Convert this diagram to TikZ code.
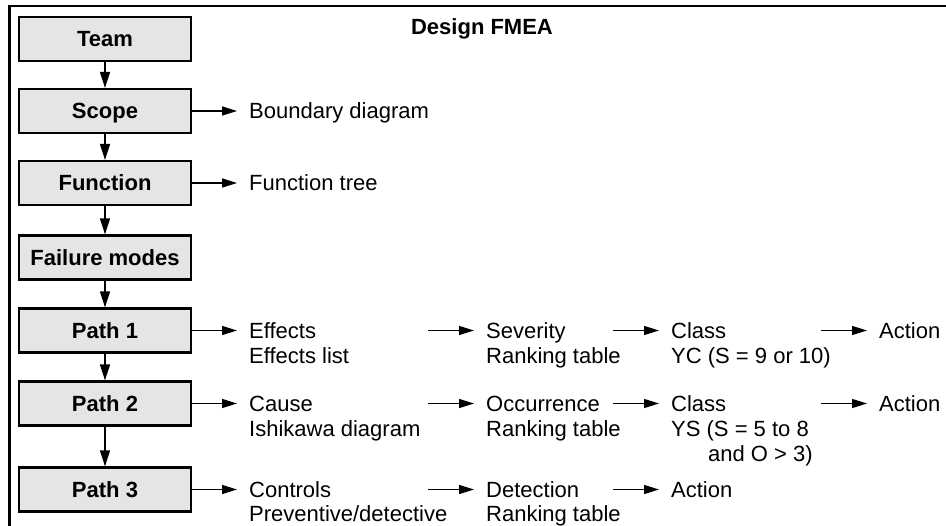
\documentclass[tikz,border=0pt]{standalone}
\usepackage{fontspec}
\setmainfont{Liberation Sans}
\usetikzlibrary{arrows.meta}
\begin{document}
\begin{tikzpicture}[x=1pt,y=-1pt,
  txt/.style={font=\fontsize{22}{26}\selectfont},
  stepbox/.style={draw=black, line width=2.2pt, fill=black!10,
    minimum width=172pt, minimum height=44pt, inner sep=0pt,
    text height=15.8pt, text depth=0pt,
    font=\fontsize{22}{26}\selectfont\bfseries},
  flow/.style={line width=1.4pt, -{Triangle[length=15pt,width=9pt]}},
  down/.style={line width=1.4pt, -{Triangle[length=16pt,width=10pt]}},
  head/.style={txt, anchor=west, inner xsep=12pt, inner ysep=0pt,
    text height=15.8pt, text depth=0pt},
  sub/.style={txt, anchor=base west, inner sep=0pt}]
\useasboundingbox (0,0) rectangle (946,526);

% frame
\draw[line width=2.4pt] (9.5,527) -- (9.5,6) -- (947,6);

% title
\node[anchor=base, font=\fontsize{22}{26}\selectfont\bfseries] (title) at (482,35) {Design FMEA};

% main chain of steps
\node[stepbox] (team)  at (105,39)    {Team};
\node[stepbox] (scope) at (105,111)   {Scope};
\node[stepbox] (func)  at (105,183)   {Function};
\node[stepbox] (fail)  at (105,257.5) {Failure modes};
\node[stepbox] (p1)    at (105,330.5) {Path 1};
\node[stepbox] (p2)    at (105,403.5) {Path 2};
\node[stepbox] (p3)    at (105,489.5) {Path 3};

\draw[down] (team)  -- (scope);
\draw[down] (scope) -- (func);
\draw[down] (func)  -- (fail);
\draw[down] (fail)  -- (p1);
\draw[down] (p1)    -- (p2);
\draw[down] (p2)    -- (p3);

% tools
\node[head] (bound) at (237,111) {Boundary diagram};
\node[head] (ftree) at (237,183) {Function tree};
\draw[flow] (scope) -- (bound);
\draw[flow] (func)  -- (ftree);

% path 1
\node[head] (eff)  at (237,330.5) {Effects};
\node[sub]  (effl) at (249,363.4) {Effects list};
\node[head] (sev)  at (474,330.5) {Severity};
\node[sub]  (sevl) at (486,363.4) {Ranking table};
\node[head] (cl1)  at (659,330.5) {Class};
\node[sub]  (cl1l) at (671,363.4) {YC (S = 9 or 10)};
\node[head] (act1) at (867,330.5) {Action};
\coordinate (s12) at (428,330.5);
\coordinate (s13) at (613,330.5);
\coordinate (s14) at (821,330.5);
\draw[flow] (p1)  -- (eff);
\draw[flow] (s12) -- (sev);
\draw[flow] (s13) -- (cl1);
\draw[flow] (s14) -- (act1);

% path 2
\node[head] (cause) at (237,403.5) {Cause};
\node[sub]  (caul)  at (249,436.4) {Ishikawa diagram};
\node[head] (occ)   at (474,403.5) {Occurrence};
\node[sub]  (occl)  at (486,436.4) {Ranking table};
\node[head] (cl2)   at (659,403.5) {Class};
\node[sub]  (cl2l)  at (671,436.4) {YS (S = 5 to 8};
\node[sub]  (cl2m)  at (708,461.8) {and O > 3)};
\node[head] (act2)  at (867,403.5) {Action};
\coordinate (s22) at (428,403.5);
\coordinate (s23) at (613,403.5);
\coordinate (s24) at (821,403.5);
\draw[flow] (p2)  -- (cause);
\draw[flow] (s22) -- (occ);
\draw[flow] (s23) -- (cl2);
\draw[flow] (s24) -- (act2);

% path 3
\node[head] (ctrl) at (237,489.5) {Controls};
\node[sub]  (ctrll) at (249,521.5) {Preventive/detective};
\node[head] (det)  at (474,489.5) {Detection};
\node[sub]  (detl) at (486,521.5) {Ranking table};
\node[head] (act3) at (659,489.5) {Action};
\coordinate (s32) at (428,489.5);
\coordinate (s33) at (613,489.5);
\draw[flow] (p3)  -- (ctrl);
\draw[flow] (s32) -- (det);
\draw[flow] (s33) -- (act3);
\end{tikzpicture}
\end{document}
